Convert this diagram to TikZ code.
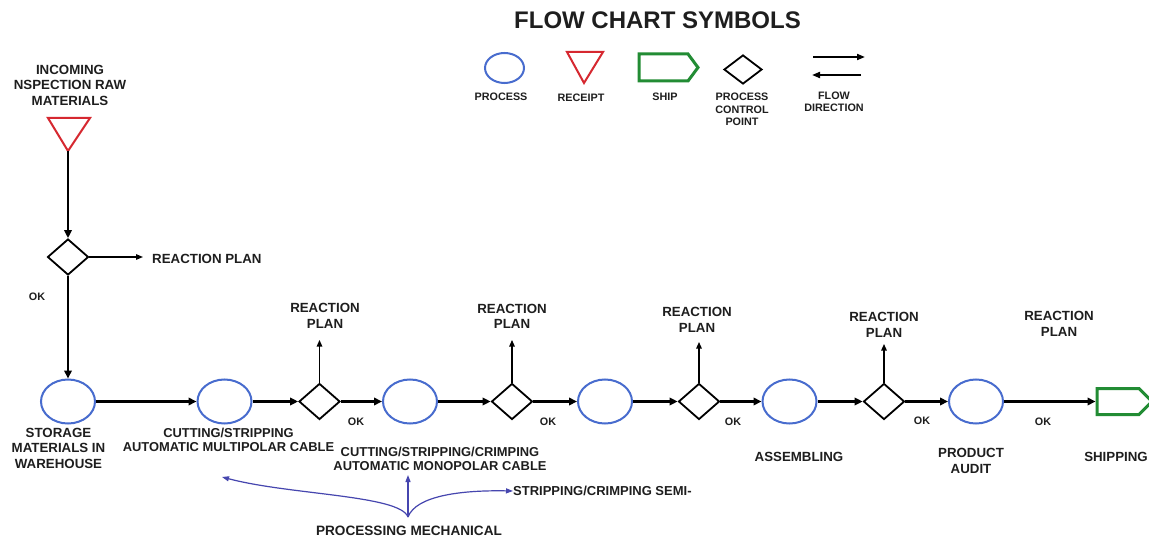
\documentclass[tikz,border=0pt]{standalone}
\usepackage{fontspec}
\setmainfont{Liberation Sans}
\usetikzlibrary{shapes.geometric,arrows.meta}
\definecolor{procblue}{RGB}{72,108,206}
\definecolor{rcptred}{RGB}{214,40,48}
\definecolor{shipgreen}{RGB}{34,140,52}
\definecolor{txt}{RGB}{30,30,30}
\definecolor{annblue}{RGB}{70,70,175}
\begin{document}
\begin{tikzpicture}[x=1pt,y=-1pt,
  proc/.style={ellipse,draw=procblue,line width=2pt,minimum width=54pt,minimum height=44pt,inner sep=0pt},
  ctrl/.style={diamond,draw=black,line width=1.8pt,minimum width=41pt,minimum height=36pt,inner sep=0pt},
  flow/.style={line width=2.6pt,-{Triangle[length=8pt,width=7.5pt]}},
  thinarr/.style={line width=1.2pt,-{Triangle[length=6.5pt,width=5.5pt]}},
  lbl/.style={font=\bfseries\fontsize{13.3}{15.5}\selectfont,text=txt,align=center,inner sep=0pt},
  lbltight/.style={font=\bfseries\fontsize{12.9}{14}\selectfont,text=txt,align=center,inner sep=0pt},
  sml/.style={font=\bfseries\fontsize{10.8}{12.3}\selectfont,text=txt,align=center,inner sep=0pt},
  ann/.style={annblue,line width=1.2pt,-{Triangle[length=7pt,width=5pt]}}]
\useasboundingbox (0,0) rectangle (1149,540);
\fill[white] (0,0) rectangle (1149,540);

% ---------- legend ----------
\node[font=\bfseries\fontsize{24}{28}\selectfont,text=txt,inner sep=0pt] (title) at (657.5,20) {FLOW CHART SYMBOLS};
\node[ellipse,draw=procblue,line width=2pt,minimum width=39pt,minimum height=30pt,inner sep=0pt] (lgproc) at (504.5,68) {};
\node[sml] (lgproclbl) at (501,97) {PROCESS};
\draw[rcptred,line width=2pt,line join=miter] (567,52) -- (603,52) -- (584,83) -- cycle;
\coordinate (lgrcpt) at (585,67);
\node[sml] (lgrcptlbl) at (581,98) {RECEIPT};
\draw[shipgreen,line width=3pt,line join=miter] (639,54) -- (688,54) -- (698,67.5) -- (688,81) -- (639,81) -- cycle;
\coordinate (lgship) at (668,67.5);
\node[sml] (lgshiplbl) at (665,97) {SHIP};
\node[diamond,draw=black,line width=1.8pt,minimum width=38pt,minimum height=29pt,inner sep=0pt] (lgctrl) at (743,69.5) {};
\node[sml] (lgctrllbl) at (742,109.5) {PROCESS\\CONTROL\\POINT};
\coordinate (fra) at (813,57);
\coordinate (frb) at (865,57);
\coordinate (fla) at (861,75);
\coordinate (flb) at (812,75);
\draw[line width=1.8pt,-{Triangle[length=8pt,width=6pt]}] (fra) -- (frb);
\draw[line width=1.8pt,-{Triangle[length=8pt,width=6pt]}] (fla) -- (flb);
\node[sml] (lgflowlbl) at (834,101.5) {FLOW\\DIRECTION};

% ---------- incoming ----------
\node[lbl] (inlbl) at (70,85) {INCOMING\\NSPECTION RAW\\MATERIALS};
\draw[rcptred,line width=2pt,line join=miter] (48,118) -- (90,118) -- (68,151) -- cycle;
\coordinate (tri) at (68,151);
\node[ctrl] (d0) at (68,257) {};
\node[lbl,anchor=west] (rp0) at (152,258.5) {REACTION PLAN};
\coordinate (rp0end) at (143,257);
\node[sml] (ok0) at (37,296.5) {OK};

% ---------- main row ----------
\node[proc] (st) at (68,401.5) {};
\node[proc] (p2) at (224.5,401.5) {};
\node[ctrl] (d1) at (319.5,401.5) {};
\node[proc] (p3) at (410,401.5) {};
\node[ctrl] (d2) at (512,401.5) {};
\node[proc] (p4) at (605,401.5) {};
\node[ctrl] (d3) at (699,401.5) {};
\node[proc] (p5) at (789.5,401.5) {};
\node[ctrl] (d4) at (884,401.5) {};
\node[proc] (p6) at (976,401.5) {};
\draw[shipgreen,line width=3pt,line join=miter] (1097,388.5) -- (1139,388.5) -- (1152,401.5) -- (1139,414.5) -- (1097,414.5) -- cycle;
\coordinate (shipW) at (1095.5,401.5);

\draw[flow,line width=2.2pt] (tri) -- (d0.north);
\draw[line width=1.3pt,-{Triangle[length=7pt,width=5.5pt]}] (d0.east) -- (rp0end);
\draw[flow,line width=2.2pt] (d0.south) -- (st.north);
\draw[flow] (st) -- (p2);
\draw[flow] (p2) -- (d1);
\draw[flow] (d1) -- (p3);
\draw[flow] (p3) -- (d2);
\draw[flow] (d2) -- (p4);
\draw[flow] (p4) -- (d3);
\draw[flow] (d3) -- (p5);
\draw[flow] (p5) -- (d4);
\draw[flow] (d4) -- (p6);
\draw[flow] (p6) -- (shipW);

% reaction plans
\node[lbl] (rp1) at (325,316) {REACTION\\PLAN};
\node[lbl] (rp2) at (512,316.5) {REACTION\\PLAN};
\node[lbl] (rp3) at (697,320) {REACTION\\PLAN};
\node[lbl] (rp4) at (884,325) {REACTION\\PLAN};
\node[lbl] (rp5) at (1059,324) {REACTION\\PLAN};
\coordinate (u1) at (319.5,340);
\coordinate (u2) at (512,340);
\coordinate (u3) at (699,342);
\coordinate (u4) at (884,344);
\draw[thinarr] (d1.north) -- (u1);
\draw[thinarr] (d2.north) -- (u2);
\draw[thinarr] (d3.north) -- (u3);
\draw[thinarr] (d4.north) -- (u4);

% OK labels
\node[sml] (ok1) at (356,421.5) {OK};
\node[sml] (ok2) at (548,421.5) {OK};
\node[sml] (ok3) at (733,421.5) {OK};
\node[sml] (ok4) at (922,420.5) {OK};
\node[sml] (ok5) at (1043,421.5) {OK};

% process labels
\node[lbl] (stlbl) at (58.5,448) {STORAGE\\MATERIALS IN\\WAREHOUSE};
\node[lbltight] (p2lbl) at (228.5,439.7) {CUTTING/STRIPPING\\AUTOMATIC MULTIPOLAR CABLE};
\node[lbltight] (p3lbl) at (440,458.4) {CUTTING/STRIPPING/CRIMPING\\AUTOMATIC MONOPOLAR CABLE};
\node[lbl] (p5lbl) at (799,457) {ASSEMBLING};
\node[lbl] (p6lbl) at (971,461) {PRODUCT\\AUDIT};
\node[lbl,anchor=east] (shiplbl) at (1148,457) {SHIPPING};

% annotation arrows
\node[lbl,anchor=west,font=\bfseries\fontsize{13}{15.5}\selectfont] (semi) at (513,491) {STRIPPING/CRIMPING SEMI-};
\node[lbl,font=\bfseries\fontsize{13.6}{15.5}\selectfont] (pm) at (409,531) {PROCESSING MECHANICAL};
\coordinate (src) at (408,517);
\coordinate (tipL) at (222,477);
\coordinate (tipM) at (408,475);
\draw[ann] (src) .. controls (400,495) and (290,495) .. (tipL);
\draw[ann] (src) -- (tipM);
\draw[ann] (src) .. controls (416,496) and (460,490) .. (semi.west);
\end{tikzpicture}
\end{document}
